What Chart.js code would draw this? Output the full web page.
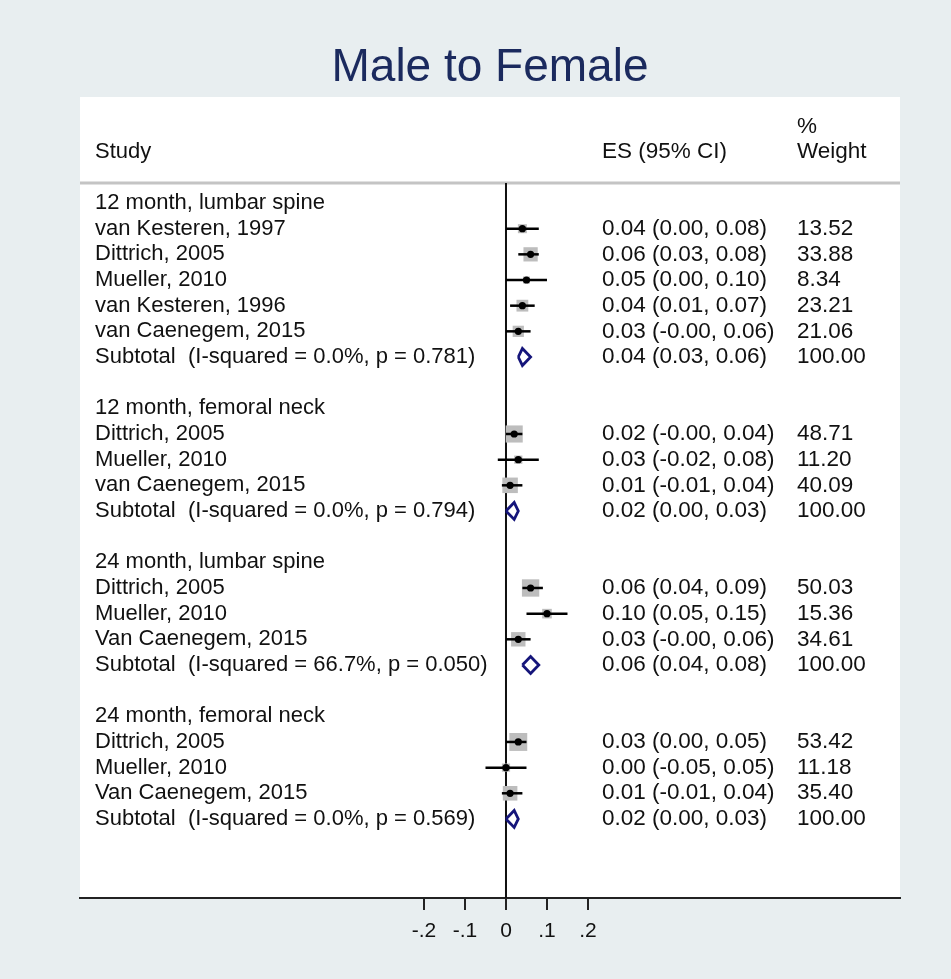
<!DOCTYPE html>
<html>
<head>
<meta charset="utf-8">
<script src="https://cdn.jsdelivr.net/npm/chart.js@4.4.1/dist/chart.umd.min.js"></script>
<style>
  html, body { margin: 0; padding: 0; background: #e8eef0; }
  canvas { display: block; }
</style>
</head>
<body>
<canvas id="forest" width="951" height="979"></canvas>
<script>
// groups (subgroup headers) and how many studies each one holds
const groupNames = ['12 month, lumbar spine', '12 month, femoral neck', '24 month, lumbar spine', '24 month, femoral neck'];
const groupSizes = [5, 3, 3, 3];

// study rows, in drawing order
const studyNames = ['van Kesteren, 1997', 'Dittrich, 2005', 'Mueller, 2010', 'van Kesteren, 1996', 'van Caenegem, 2015',
                    'Dittrich, 2005', 'Mueller, 2010', 'van Caenegem, 2015',
                    'Dittrich, 2005', 'Mueller, 2010', 'Van Caenegem, 2015',
                    'Dittrich, 2005', 'Mueller, 2010', 'Van Caenegem, 2015'];
const studyES = [0.04, 0.06, 0.05, 0.04, 0.03, 0.02, 0.03, 0.01, 0.06, 0.10, 0.03, 0.03, 0.00, 0.01];
const studyLo = [0.00, 0.03, 0.00, 0.01, -0, -0, -0.02, -0.01, 0.04, 0.05, -0, 0.00, -0.05, -0.01];
const studyHi = [0.08, 0.08, 0.10, 0.07, 0.06, 0.04, 0.08, 0.04, 0.09, 0.15, 0.06, 0.05, 0.05, 0.04];
const studyWeight = [13.52, 33.88, 8.34, 23.21, 21.06, 48.71, 11.20, 40.09, 50.03, 15.36, 34.61, 53.42, 11.18, 35.40];

// subtotals, one per group
const subES = [0.04, 0.02, 0.06, 0.02];
const subLo = [0.03, 0.00, 0.04, 0.00];
const subHi = [0.06, 0.03, 0.08, 0.03];
const subISq = ['0.0', '0.0', '66.7', '0.0'];
const subP = ['0.781', '0.794', '0.050', '0.569'];

// x axis ticks
const xTicks = [-0.2, -0.1, 0, 0.1, 0.2];
const xTickLabels = ['-.2', '-.1', '0', '.1', '.2'];

const FONT = '"Liberation Sans", Arial, sans-serif';
const yMin = -0.78, yMax = 27.08;

function fmt(v) {
  const neg = v < 0 || Object.is(v, -0);
  return (neg ? '-' : '') + Math.abs(v).toFixed(2);
}
function ciText(es, lo, hi) {
  return fmt(es) + ' (' + fmt(lo) + ', ' + fmt(hi) + ')';
}

// lay rows out: header, studies, subtotal, blank line
const rows = [];
let r = 0, s = 0;
groupNames.forEach((g, gi) => {
  rows.push({ row: r++, label: g });
  for (let k = 0; k < groupSizes[gi]; k++) {
    rows.push({ row: r, label: studyNames[s], ci: ciText(studyES[s], studyLo[s], studyHi[s]), w: studyWeight[s].toFixed(2), study: s });
    r++; s++;
  }
  rows.push({ row: r++, label: 'Subtotal  (I-squared = ' + subISq[gi] + '%, p = ' + subP[gi] + ')',
              ci: ciText(subES[gi], subLo[gi], subHi[gi]), w: '100.00', sub: gi });
  r++;
});

const studyRows = rows.filter(o => o.study !== undefined);
const subRows = rows.filter(o => o.sub !== undefined);

const datasets = [];
// null line
datasets.push({ data: [{ x: 0, y: yMin }, { x: 0, y: yMax }], showLine: true, borderColor: '#111',
                borderWidth: 2, pointRadius: 0, order: 5 });
// weight boxes
datasets.push({
  data: studyRows.map(o => ({ x: studyES[o.study], y: o.row })),
  pointStyle: 'rect',
  pointRadius: studyRows.map(o => 2.45 * Math.sqrt(studyWeight[o.study]) / 1.414),
  backgroundColor: '#bdbdbd', borderWidth: 0, order: 4
});
// confidence intervals
studyRows.forEach(o => {
  datasets.push({ data: [{ x: studyLo[o.study], y: o.row }, { x: studyHi[o.study], y: o.row }],
                  showLine: true, borderColor: '#000', borderWidth: 2.5, pointRadius: 0, order: 3 });
});
// point estimates
datasets.push({
  data: studyRows.map(o => ({ x: studyES[o.study], y: o.row })),
  pointStyle: 'circle', pointRadius: 3.6, backgroundColor: '#000', borderWidth: 0, order: 2
});
// subtotal diamonds
const dh = 0.33;
subRows.forEach(o => {
  const g = o.sub;
  datasets.push({
    data: [{ x: subLo[g], y: o.row }, { x: subES[g], y: o.row - dh }, { x: subHi[g], y: o.row },
           { x: subES[g], y: o.row + dh }, { x: subLo[g], y: o.row }],
    showLine: true, borderColor: '#15157a', borderWidth: 2.8, borderJoinStyle: 'miter',
    pointRadius: 0, tension: 0, order: 1
  });
});

const panelPlugin = {
  id: 'panel',
  beforeDraw(chart) {
    const { ctx, chartArea } = chart;
    ctx.save();
    ctx.fillStyle = '#e8eef0';
    ctx.fillRect(0, 0, chart.width, chart.height);
    ctx.fillStyle = '#ffffff';
    ctx.fillRect(chartArea.left, 97, chartArea.right - chartArea.left, chartArea.bottom - 97);
    // title
    ctx.fillStyle = '#1b2a5e';
    ctx.font = '46px ' + FONT;
    ctx.textAlign = 'center';
    ctx.textBaseline = 'middle';
    ctx.fillText('Male to Female', 490, 68);
    // header
    ctx.fillStyle = '#111';
    ctx.textAlign = 'left';
    ctx.font = '22px ' + FONT;
    ctx.fillText('Study', 95, 152);
    ctx.font = '22.5px ' + FONT;
    ctx.fillText('ES (95% CI)', 602, 152);
    ctx.fillText('%', 797, 127);
    ctx.fillText('Weight', 797, 152);
    // separator under header
    ctx.strokeStyle = '#c4c4c4';
    ctx.lineWidth = 3;
    ctx.beginPath();
    ctx.moveTo(chartArea.left, chartArea.top);
    ctx.lineTo(chartArea.right, chartArea.top);
    ctx.stroke();
    ctx.restore();
  },
  afterDatasetsDraw(chart) {
    const { ctx } = chart;
    const y = chart.scales.y;
    ctx.save();
    ctx.fillStyle = '#111';
    ctx.textAlign = 'left';
    ctx.textBaseline = 'middle';
    rows.forEach(o => {
      const py = y.getPixelForValue(o.row);
      ctx.font = '22px ' + FONT;
      ctx.fillText(o.label, 95, py);
      ctx.font = '22.5px ' + FONT;
      if (o.ci) ctx.fillText(o.ci, 602, py);
      if (o.w) ctx.fillText(o.w, 797, py);
    });
    ctx.restore();
  }
};

new Chart(document.getElementById('forest'), {
  type: 'scatter',
  data: { datasets: datasets },
  options: {
    responsive: false,
    animation: false,
    layout: { padding: { left: 80, right: 51, top: 183, bottom: 0 } },
    plugins: { legend: { display: false }, tooltip: { enabled: false } },
    scales: {
      x: {
        type: 'linear',
        min: -1.039, max: 0.961,
        afterBuildTicks(scale) { scale.ticks = xTicks.map(v => ({ value: v })); },
        afterFit(scale) { scale.height = 81; },
        ticks: {
          autoSkip: false, maxRotation: 0, padding: 9, color: '#111',
          font: { family: FONT, size: 21 },
          callback: (v) => xTickLabels[xTicks.indexOf(v)]
        },
        grid: { drawOnChartArea: false, drawTicks: true, tickLength: 12, color: '#222', lineWidth: 2 },
        border: { display: true, color: '#222', width: 2 }
      },
      y: {
        type: 'linear', display: false, reverse: true, min: yMin, max: yMax
      }
    }
  },
  plugins: [panelPlugin]
});
</script>
</body>
</html>
